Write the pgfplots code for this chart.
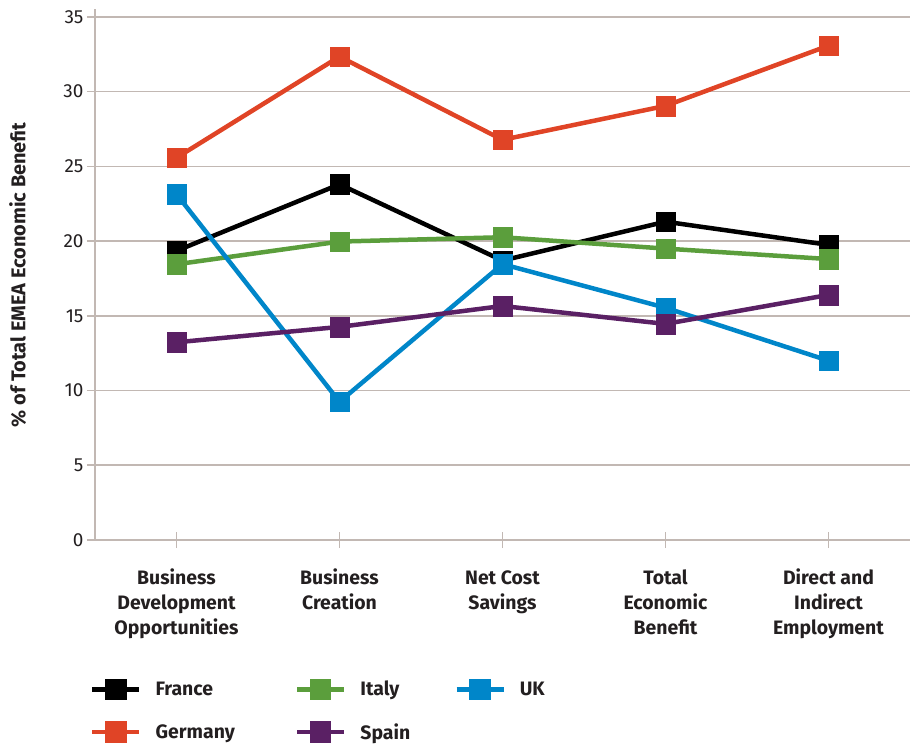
\documentclass[border=0pt]{standalone}
\usepackage{fontspec}
\setmainfont{Fira Sans}
\usepackage{pgfplots}
\pgfplotsset{compat=1.18}
\definecolor{cGer}{HTML}{E04426}
\definecolor{cIta}{HTML}{5B9E3C}
\definecolor{cUK}{HTML}{0086C9}
\definecolor{cSpa}{HTML}{5A2064}
\definecolor{cGrid}{HTML}{C2B8B3}
\definecolor{cTxt}{HTML}{231F20}
\begin{document}
\begin{tikzpicture}
\begin{axis}[
  width=815bp, height=530.5bp, scale only axis,
  xmin=-0.5, xmax=4.5, ymin=0, ymax=35.5,
  axis x line=bottom, axis y line=left,
  axis line style={draw=cGrid, line width=1.6bp, -},
  ytick={0,5,...,35}, xtick={0,1,2,3,4},
  xticklabels={{\strut Business\\Development\\Opportunities},{\strut Business\\Creation},{\strut Net Cost\\Savings},{\strut Total\\Economic\\Benefit},{\strut Direct and\\Indirect\\Employment}},
  ymajorgrids, grid style={draw=cGrid, line width=1.6bp},
  tick style={draw=cGrid, line width=1.6bp},
  tick align=center, major tick length=16bp,
  /pgf/number format/assume math mode=true,
  yticklabel style={font=\fontsize{19}{22}\selectfont, text=cTxt},
  xticklabel style={font=\fontsize{19.5}{25}\selectfont\bfseries, text=cTxt, align=center, anchor=north, yshift=-16bp},
  ylabel={\% of Total EMEA Economic Benefit},
  ylabel style={font=\fontsize{20}{22}\selectfont\bfseries, text=cTxt, at={(axis description cs:-0.095,0.5)}, anchor=center},
  every axis plot/.append style={line width=4.5bp, mark=square*, mark size=9.8bp, mark options={solid, line width=0.3bp}},
  legend columns=3,
  legend style={draw=none, fill=none, at={(axis description cs:0,0)}, anchor=north west, xshift=-8bp, yshift=-137bp,
    font=\fontsize{19.5}{22}\selectfont\bfseries, text=cTxt,
    /tikz/every odd column/.append style={column sep=12bp},
    /tikz/column 2/.style={column sep=58bp},
    /tikz/column 4/.style={column sep=42bp},
    row sep=22bp},
  legend cell align=left,
  legend image code/.code={\draw[#1, mark options={scale=0.85}, mark repeat=2, mark phase=2] plot coordinates {(0bp,0bp) (23.5bp,0bp) (47bp,0bp)};},
  clip=false,
]
\addplot[color=black] coordinates {(0,19.35) (1,23.8) (2,18.7) (3,21.3) (4,19.75)};
\addlegendentry{France}
\addplot[color=cIta] coordinates {(0,18.45) (1,19.97) (2,20.26) (3,19.5) (4,18.8)};
\addlegendentry{Italy}
\addplot[color=cUK] coordinates {(0,23.14) (1,9.25) (2,18.46) (3,15.54) (4,12.0)};
\addlegendentry{UK}
\addplot[color=cGer] coordinates {(0,25.58) (1,32.35) (2,26.78) (3,29.05) (4,33.08)};
\addlegendentry{Germany}
\addplot[color=cSpa] coordinates {(0,13.23) (1,14.26) (2,15.66) (3,14.46) (4,16.4)};
\addlegendentry{Spain}
\coordinate (bl) at (rel axis cs:0,0);
\end{axis}
\pgfresetboundingbox
\path ([shift={(-95bp,-206bp)}]bl) rectangle ([shift={(815bp,540bp)}]bl);
\end{tikzpicture}
\end{document}
